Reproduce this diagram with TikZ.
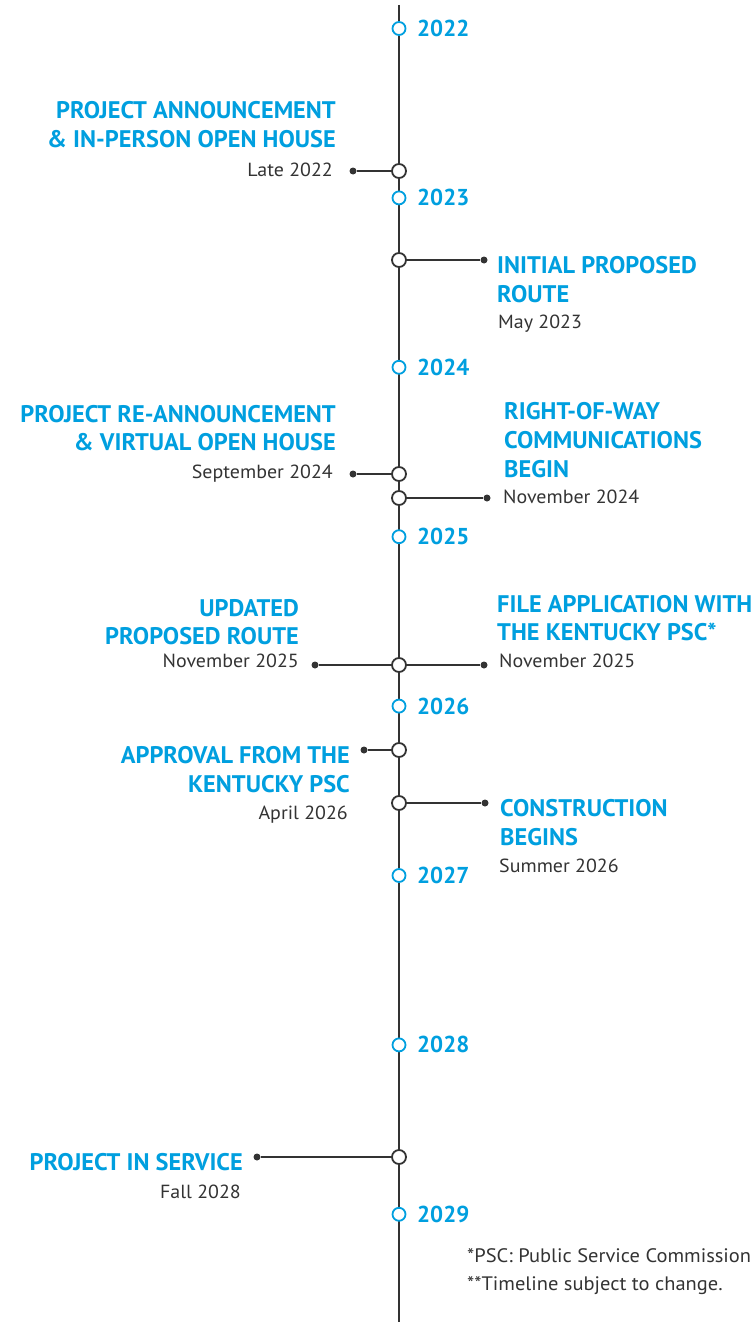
\documentclass[tikz,border=0pt]{standalone}
\usepackage{fontspec}
\setmainfont{PT Sans}
\newfontfamily\ttlfont[FakeStretch=1.015]{PT Sans}
\newfontfamily\dtfont[FakeStretch=1.05]{PT Sans}
\definecolor{tlblue}{HTML}{009FDF}
\definecolor{tlgray}{HTML}{333333}
\begin{document}
\begin{tikzpicture}[x=1pt,y=-1pt,
 yr/.style={circle,draw=tlblue,line width=1.8pt,fill=white,minimum size=13pt,inner sep=0pt},
 ev/.style={circle,draw=tlgray,line width=1.8pt,fill=white,minimum size=14pt,inner sep=0pt},
 dotn/.style={circle,fill=tlgray,minimum size=7pt,inner sep=0pt},
 ttl/.style={font=\ttlfont\fontsize{24}{28}\selectfont\bfseries,text=tlblue,inner sep=0pt},
 yl/.style={font=\fontsize{23}{28}\selectfont\bfseries,text=tlblue,inner sep=0pt,anchor=base west},
 dt/.style={font=\dtfont\fontsize{19}{22}\selectfont,text=tlgray,inner sep=0pt},
 fn/.style={font=\dtfont\fontsize{19.5}{22}\selectfont,text=tlgray,inner sep=0pt,anchor=base west},
 conn/.style={draw=tlgray,line width=1.5pt}]
\useasboundingbox (0,0) rectangle (755,1322);
\coordinate (top) at (399,5);
\coordinate (bot) at (399,1322);
\draw[conn] (top) -- (bot);
% years
\foreach \yy/\k in {2022/0,2023/1,2024/2,2025/3,2026/4,2027/5,2028/6,2029/7}{
  \node[yr] (c\yy) at (399,28.5+169.4*\k) {};
  \node[yl] (y\yy) at (417,36.5+169.4*\k) {\yy};
}
% Late 2022
\node[ev] (e1) at (399,171) {};
\node[dotn] (d1) at (353,171) {};
\draw[conn] (d1) -- (e1);
\node[ttl,anchor=base east] (t1a) at (336,118) {PROJECT ANNOUNCEMENT};
\node[ttl,anchor=base east] (t1b) at (336,147) {\& IN-PERSON OPEN HOUSE};
\node[dt,anchor=base east] (t1c) at (333,176.5) {Late 2022};
% May 2023
\node[ev] (e2) at (399,260) {};
\node[dotn] (d2) at (484,260) {};
\draw[conn] (e2) -- (d2);
\node[ttl,anchor=base west] (t2a) at (497,273) {INITIAL PROPOSED};
\node[ttl,anchor=base west] (t2b) at (497,302) {ROUTE};
\node[dt,anchor=base west] (t2c) at (498,328.5) {May 2023};
% September 2024
\node[ev] (e3) at (399,474) {};
\node[dotn] (d3) at (353,474) {};
\draw[conn] (d3) -- (e3);
\node[ttl,anchor=base east] (t3a) at (336,422) {PROJECT RE-ANNOUNCEMENT};
\node[ttl,anchor=base east] (t3b) at (336,450) {\& VIRTUAL OPEN HOUSE};
\node[dt,anchor=base east] (t3c) at (333,478) {September 2024};
% November 2024
\node[ev] (e4) at (399,498) {};
\node[dotn] (d4) at (487,498) {};
\draw[conn] (e4) -- (d4);
\node[ttl,anchor=base west] (t4a) at (504,419) {RIGHT-OF-WAY};
\node[ttl,anchor=base west] (t4b) at (504,448) {COMMUNICATIONS};
\node[ttl,anchor=base west] (t4c) at (504,477) {BEGIN};
\node[dt,anchor=base west] (t4d) at (503,503.5) {November 2024};
% November 2025
\node[ev] (e5) at (399,665) {};
\node[dotn] (d5l) at (315,665) {};
\node[dotn] (d5r) at (484,665) {};
\draw[conn] (d5l) -- (e5);
\draw[conn] (e5) -- (d5r);
\node[ttl,anchor=base east] (t5a) at (299,616) {UPDATED};
\node[ttl,anchor=base east] (t5b) at (299,644) {PROPOSED ROUTE};
\node[dt,anchor=base east] (t5c) at (299,667.5) {November 2025};
\node[ttl,anchor=base west] (t6a) at (497,612) {FILE APPLICATION WITH};
\node[ttl,anchor=base west] (t6b) at (497,640) {THE KENTUCKY PSC*};
\node[dt,anchor=base west] (t6c) at (499,667.5) {November 2025};
% April 2026
\node[ev] (e7) at (399,750) {};
\node[dotn] (d7) at (364,750) {};
\draw[conn] (d7) -- (e7);
\node[ttl,anchor=base east] (t7a) at (350,763) {APPROVAL FROM THE};
\node[ttl,anchor=base east] (t7b) at (350,792) {KENTUCKY PSC};
\node[dt,anchor=base east] (t7c) at (348,819.5) {April 2026};
% Summer 2026
\node[ev] (e8) at (399,803) {};
\node[dotn] (d8) at (485,803) {};
\draw[conn] (e8) -- (d8);
\node[ttl,anchor=base west] (t8a) at (500,816) {CONSTRUCTION};
\node[ttl,anchor=base west] (t8b) at (500,845) {BEGINS};
\node[dt,anchor=base west] (t8c) at (499,872.5) {Summer 2026};
% Fall 2028
\node[ev] (e9) at (399,1157) {};
\node[dotn] (d9) at (257,1157) {};
\draw[conn] (d9) -- (e9);
\node[ttl,anchor=base east] (t9a) at (243,1170) {PROJECT IN SERVICE};
\node[dt,anchor=base east] (t9b) at (241,1198.5) {Fall 2028};
% footnotes
\node[fn] (f1) at (467,1262.5) {*PSC: Public Service Commission};
\node[fn] (f2) at (467,1290.5) {**Timeline subject to change.};
\end{tikzpicture}
\end{document}
